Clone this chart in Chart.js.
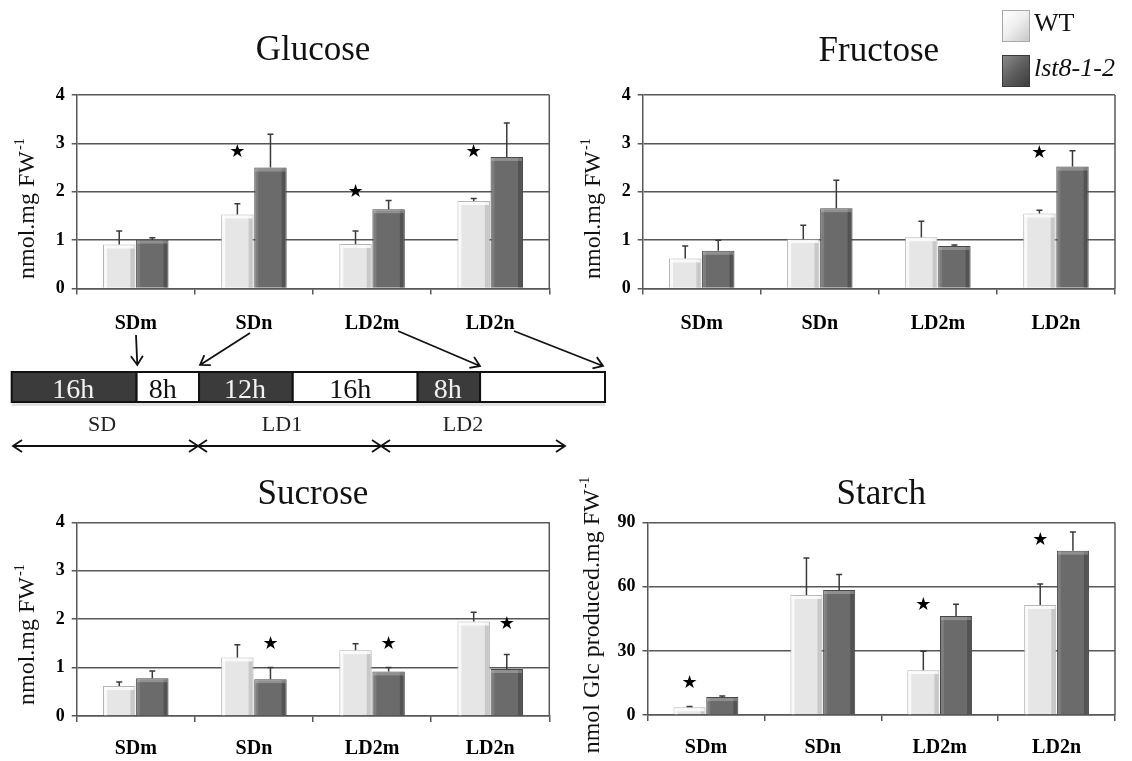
<!DOCTYPE html>
<html>
<head>
<meta charset="utf-8">
<script src="https://cdn.jsdelivr.net/npm/chart.js@4"></script>
<style>
  html, body { margin: 0; padding: 0; background: #fff; }
  body { width: 1132px; height: 761px; position: relative; overflow: hidden; font-family: "Liberation Serif", "Times New Roman", serif; }
  canvas { position: absolute; }
  .legbox { position: absolute; width: 28px; height: 32px; box-sizing: border-box; }
  .legtxt { position: absolute; font-size: 26px; line-height: 31px; color: #111; white-space: nowrap; }
  #diagram { position: absolute; left: 0; top: 0; pointer-events: none; }
</style>
</head>
<body>
<canvas id="glucose" width="570" height="345" style="left:0px;top:0px"></canvas>
<canvas id="fructose" width="562" height="345" style="left:570px;top:0px"></canvas>
<canvas id="sucrose" width="570" height="301" style="left:0px;top:460px"></canvas>
<canvas id="starch" width="562" height="301" style="left:570px;top:460px"></canvas>

<div class="legbox" style="left:1002px;top:10px;background:linear-gradient(135deg,#ffffff 0%,#f0f0f0 45%,#c8c8c8 100%);border:1px solid #a8a8a8;"></div>
<div class="legtxt" style="left:1034px;top:7px;">WT</div>
<div class="legbox" style="left:1002px;top:55px;background:linear-gradient(135deg,#8a8a8a 0%,#5e5e5e 50%,#3e3e3e 100%);border:1px solid #3a3a3a;"></div>
<div class="legtxt" style="left:1034px;top:52px;font-style:italic;">lst8-1-2</div>

<svg id="diagram" width="1132" height="761" xmlns="http://www.w3.org/2000/svg"></svg>

<script>
// ---------------- data ----------------
const categories = ['SDm', 'SDn', 'LD2m', 'LD2n'];
const seriesLabels = ['WT', 'lst8-1-2'];

const concTicks = [0, 1, 2, 3, 4];
const starchTicks = [0, 30, 60, 90];

const glucoseWT     = [0.91, 1.53, 0.92, 1.81];
const glucoseWTErr  = [0.28, 0.22, 0.27, 0.05];
const glucoseLst    = [1.01, 2.50, 1.64, 2.72];
const glucoseLstErr = [0.04, 0.69, 0.18, 0.70];
const glucoseStarWT  = [null, 2.81, 1.98, 2.81];
const glucoseStarLst = [null, null, null, null];

const fructoseWT     = [0.62, 1.02, 1.06, 1.55];
const fructoseWTErr  = [0.26, 0.29, 0.33, 0.07];
const fructoseLst    = [0.78, 1.66, 0.88, 2.52];
const fructoseLstErr = [0.22, 0.58, 0.02, 0.33];
const fructoseStarWT  = [null, null, null, 2.79];
const fructoseStarLst = [null, null, null, null];

const sucroseWT     = [0.62, 1.21, 1.36, 1.95];
const sucroseWTErr  = [0.08, 0.26, 0.13, 0.19];
const sucroseLst    = [0.78, 0.76, 0.92, 0.97];
const sucroseLstErr = [0.15, 0.24, 0.08, 0.30];
const sucroseStarWT  = [null, null, null, null];
const sucroseStarLst = [null, 1.48, 1.48, 1.89];

const starchWT     = [3.6, 56.2, 21.0, 51.5];
const starchWTErr  = [0.4, 17.3, 8.8, 9.8];
const starchLst    = [8.4, 58.5, 46.3, 76.9];
const starchLstErr = [0.5, 7.3, 5.5, 8.7];
const starchStarWT  = [14.8, null, 51.5, 81.6];
const starchStarLst = [null, null, null, null];

// ---------------- styling / layout ----------------
const SERIF = '"Liberation Serif", "Times New Roman", serif';
const GRID = '#575757';

const panels = [
  { id: 'glucose', left: 0, top: 0, w: 570, h: 345, area: { l: 76.7, t: 95, r: 549.3, b: 288.5 }, labelPad: 17,
    title: 'Glucose', titleY: 60, yTitle: 'nmol.mg FW', yTitleX: 28, yTitleBottom: 279,
    wt: glucoseWT, wtErr: glucoseWTErr, lst: glucoseLst, lstErr: glucoseLstErr,
    starWT: glucoseStarWT, starLst: glucoseStarLst, ticks: concTicks },
  { id: 'fructose', left: 570, top: 0, w: 562, h: 345, area: { l: 642.7, t: 95, r: 1115, b: 288.5 }, labelPad: 17,
    title: 'Fructose', titleY: 61, yTitle: 'nmol.mg FW', yTitleX: 594, yTitleBottom: 279,
    wt: fructoseWT, wtErr: fructoseWTErr, lst: fructoseLst, lstErr: fructoseLstErr,
    starWT: fructoseStarWT, starLst: fructoseStarLst, ticks: concTicks },
  { id: 'sucrose', left: 0, top: 460, w: 570, h: 301, area: { l: 76.7, t: 522.3, r: 549.3, b: 716 }, labelPad: 15,
    title: 'Sucrose', titleY: 504, yTitle: 'nmol.mg FW', yTitleX: 28, yTitleBottom: 705,
    wt: sucroseWT, wtErr: sucroseWTErr, lst: sucroseLst, lstErr: sucroseLstErr,
    starWT: sucroseStarWT, starLst: sucroseStarLst, ticks: concTicks },
  { id: 'starch', left: 570, top: 460, w: 562, h: 301, area: { l: 647.5, t: 522.7, r: 1115, b: 715 }, labelPad: 15,
    title: 'Starch', titleY: 504, yTitle: 'nmol Glc produced.mg FW', yTitleX: 593, yTitleCenter: 615,
    wt: starchWT, wtErr: starchWTErr, lst: starchLst, lstErr: starchLstErr,
    starWT: starchStarWT, starLst: starchStarLst, ticks: starchTicks }
];

function panelPlugin(p) {
  return {
    id: 'panelDecor_' + p.id,
    afterDatasetsDraw(chart) {
      const ctx = chart.ctx;
      const ys = chart.scales.y;
      const errs = [p.wtErr, p.lstErr];
      const vals = [p.wt, p.lst];
      const stars = [p.starWT, p.starLst];
      for (let d = 0; d < 2; d++) {
        const meta = chart.getDatasetMeta(d);
        meta.data.forEach((el, i) => {
          const x0 = el.x - el.width / 2, w = el.width, top = el.y, base = el.base;
          // bevel shading
          ctx.save();
          if (d === 0) {
            ctx.fillStyle = 'rgba(255,255,255,0.75)';
            ctx.fillRect(x0 + 1, top + 1, 3, base - top - 1);
            ctx.fillStyle = 'rgba(0,0,0,0.13)';
            ctx.fillRect(x0 + w - 5, top + 1, 4, base - top - 1);
            ctx.fillStyle = 'rgba(255,255,255,0.8)';
            ctx.fillRect(x0 + 1, top + 1, w - 2, 3);
          } else {
            ctx.fillStyle = 'rgba(255,255,255,0.12)';
            ctx.fillRect(x0 + 1, top + 1, 3, base - top - 1);
            ctx.fillStyle = 'rgba(0,0,0,0.22)';
            ctx.fillRect(x0 + w - 5, top + 1, 4, base - top - 1);
            ctx.fillStyle = 'rgba(255,255,255,0.25)';
            ctx.fillRect(x0 + 1, top + 1, w - 2, 3);
          }
          ctx.restore();
          // error bar
          const yTop = ys.getPixelForValue(vals[d][i] + errs[d][i]);
          ctx.save();
          ctx.strokeStyle = '#3a3a3a';
          ctx.lineWidth = 1.5;
          ctx.beginPath();
          ctx.moveTo(el.x, top);
          ctx.lineTo(el.x, yTop);
          ctx.moveTo(el.x - 3, yTop);
          ctx.lineTo(el.x + 3, yTop);
          ctx.stroke();
          ctx.restore();
          // significance star
          const s = stars[d][i];
          if (s !== null && s !== undefined) {
            ctx.save();
            ctx.fillStyle = '#000';
            ctx.font = '18px "DejaVu Sans", sans-serif';
            ctx.textAlign = 'center';
            ctx.textBaseline = 'middle';
            ctx.fillText('\u2605', el.x, ys.getPixelForValue(s));
            ctx.restore();
          }
        });
      }
    },
    afterDraw(chart) {
      const ctx = chart.ctx;
      const a = chart.chartArea;
      // right frame
      ctx.save();
      ctx.strokeStyle = GRID;
      ctx.lineWidth = 1.5;
      ctx.beginPath();
      ctx.moveTo(a.right, a.top);
      ctx.lineTo(a.right, a.bottom);
      ctx.stroke();
      ctx.restore();
      // panel title
      ctx.save();
      ctx.fillStyle = '#111';
      ctx.font = '35px ' + SERIF;
      ctx.textAlign = 'center';
      ctx.textBaseline = 'alphabetic';
      ctx.fillText(p.title, (a.left + a.right) / 2, p.titleY - p.top);
      ctx.restore();
      // y axis title with superscript
      ctx.save();
      ctx.fillStyle = '#111';
      ctx.font = '24px ' + SERIF;
      const mainW = ctx.measureText(p.yTitle).width;
      ctx.font = '14px ' + SERIF;
      const supW = ctx.measureText('-1').width;
      const total = mainW + 1 + supW;
      let startY;
      if (p.yTitleCenter !== undefined) startY = p.yTitleCenter - p.top + total / 2;
      else startY = p.yTitleBottom - p.top;
      ctx.translate(p.yTitleX - p.left, startY);
      ctx.rotate(-Math.PI / 2);
      ctx.textAlign = 'left';
      ctx.textBaseline = 'middle';
      ctx.font = '24px ' + SERIF;
      ctx.fillText(p.yTitle, 0, 0);
      ctx.font = '14px ' + SERIF;
      ctx.fillText('-1', mainW + 1, -8);
      ctx.restore();
    }
  };
}

panels.forEach(p => {
  const a = { l: p.area.l - p.left, t: p.area.t - p.top, r: p.area.r - p.left, b: p.area.b - p.top };
  new Chart(document.getElementById(p.id), {
    type: 'bar',
    data: {
      labels: categories,
      datasets: [
        { label: seriesLabels[0], data: p.wt, backgroundColor: '#e6e6e6', borderColor: '#b4b4b4', borderWidth: 1 },
        { label: seriesLabels[1], data: p.lst, backgroundColor: '#6b6b6b', borderColor: '#474747', borderWidth: 1 }
      ]
    },
    options: {
      responsive: false,
      animation: false,
      events: [],
      layout: { padding: { left: 0, top: a.t, right: p.w - a.r, bottom: 0 } },
      datasets: { bar: { categoryPercentage: 0.56, barPercentage: 0.98 } },
      plugins: { legend: { display: false }, tooltip: { enabled: false }, title: { display: false } },
      scales: {
        x: {
          grid: { drawOnChartArea: false, drawTicks: true, tickLength: 6, color: GRID, lineWidth: 1.5, offset: true },
          border: { display: true, color: GRID, width: 1.5 },
          ticks: { font: { family: SERIF, size: 20, weight: 'bold' }, color: '#000', padding: p.labelPad, maxRotation: 0 },
          afterFit: s => { s.height = p.h - a.b; }
        },
        y: {
          min: 0,
          max: p.ticks[p.ticks.length - 1],
          grid: { color: GRID, lineWidth: 1.5, tickLength: 5, drawTicks: true },
          border: { display: true, color: GRID, width: 1.5 },
          ticks: { font: { family: SERIF, size: 18, weight: 'bold' }, color: '#000', padding: 7 },
          afterBuildTicks: s => { s.ticks = p.ticks.map(v => ({ value: v })); },
          afterFit: s => { s.width = a.l; }
        }
      }
    },
    plugins: [panelPlugin(p)]
  });
});

// ---------------- photoperiod diagram ----------------
(function () {
  const svg = document.getElementById('diagram');
  const NS = 'http://www.w3.org/2000/svg';
  function el(tag, attrs, text) {
    const e = document.createElementNS(NS, tag);
    for (const k in attrs) e.setAttribute(k, attrs[k]);
    if (text !== undefined) e.textContent = text;
    svg.appendChild(e);
    return e;
  }
  const segHours = [16, 8, 12, 16, 8, 16];
  const segDark  = [true, false, true, false, true, false];
  const segText  = ['16h', '8h', '12h', '16h', '8h', ''];
  const x0 = 11.7, x1 = 605, yTop = 372, hBar = 30;
  const pxPerHour = (x1 - x0) / segHours.reduce((s, v) => s + v, 0);
  // shadow under bar
  el('rect', { x: x0, y: yTop + hBar + 1, width: x1 - x0, height: 3, fill: '#e2e2e2' });
  let x = x0;
  segHours.forEach((hh, i) => {
    const w = hh * pxPerHour;
    el('rect', { x: x, y: yTop, width: w, height: hBar, fill: segDark[i] ? '#3b3b3b' : '#ffffff', stroke: '#111', 'stroke-width': 2 });
    if (segText[i]) {
      el('text', { x: x + w / 2 - (segDark[i] ? 1 : 5), y: yTop + hBar / 2 + 1, 'text-anchor': 'middle', 'dominant-baseline': 'central',
        'font-family': 'Liberation Serif', 'font-size': 28, fill: segDark[i] ? '#f2f2f2' : '#111' }, segText[i]);
    }
    x += w;
  });
  // period labels
  [['SD', 102], ['LD1', 282], ['LD2', 463]].forEach(([t, cx]) => {
    el('text', { x: cx, y: 423, 'text-anchor': 'middle', 'dominant-baseline': 'central', 'font-family': 'Liberation Serif', 'font-size': 22, fill: '#222' }, t);
  });
  function head(xa, ya, xb, yb) { // open arrowhead at (xb,yb)
    const dx = xb - xa, dy = yb - ya, L = Math.hypot(dx, dy);
    const ux = dx / L, uy = dy / L, px = -uy, py = ux;
    const len = 9, spread = 6;
    return `M${xb - ux * len + px * spread},${yb - uy * len + py * spread} L${xb},${yb} L${xb - ux * len - px * spread},${yb - uy * len - py * spread}`;
  }
  function arrow(xa, ya, xb, yb, both) {
    let d = `M${xa},${ya} L${xb},${yb} ` + head(xa, ya, xb, yb);
    if (both) d += ' ' + head(xb, yb, xa, ya);
    el('path', { d: d, fill: 'none', stroke: '#111', 'stroke-width': 1.8 });
  }
  // double-headed period arrows
  arrow(13, 446, 198, 446, true);
  arrow(198, 446, 381, 446, true);
  arrow(381, 446, 565, 446, true);
  // pointers from sampling labels to timeline
  arrow(136, 335, 137.3, 365, false);
  arrow(250, 333, 200, 365, false);
  arrow(398, 331, 480, 366, false);
  arrow(514, 331, 603, 366, false);
})();
</script>
</body>
</html>
